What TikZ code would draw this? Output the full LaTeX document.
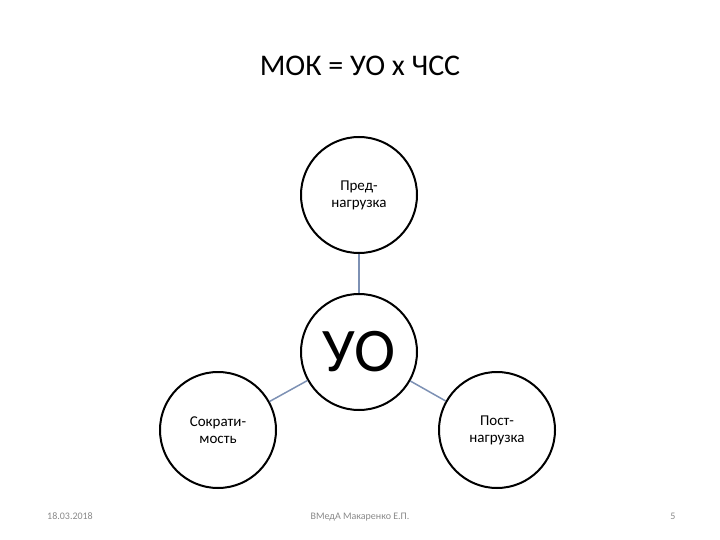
\documentclass[tikz,border=0pt]{standalone}
\usepackage{fontspec}
\setmainfont{Carlito}
\begin{document}
\begin{tikzpicture}[x=1pt,y=-1pt,
  circ/.style={circle,draw=black,line width=2pt,fill=white,minimum size=116pt,inner sep=0pt,align=center,font=\fontsize{15}{17}\selectfont},
  conn/.style={draw={rgb,255:red,125;green,145;blue,180},line width=1.5pt},
  foot/.style={font=\fontsize{10}{12}\selectfont,text={rgb,255:red,137;green,137;blue,137}}]
\useasboundingbox (0,0) rectangle (720,540);
\node (title) at (360,66) {\fontsize{30}{34}\selectfont МОК = УО x ЧСС};
\node[circ] (pre) at (359,195) {Пред-\\нагрузка};
\node[circ] (uo) at (359,352) {\fontsize{62}{64}\selectfont УО};
\node[circ] (left) at (218,430) {Сократи-\\мость};
\node[circ] (right) at (497,430) {Пост-\\нагрузка};
\draw[conn] (pre) -- (uo);
\draw[conn] (uo) -- (left);
\draw[conn] (uo) -- (right);
\node[foot,anchor=base] (date) at (70,519) {18.03.2018};
\node[foot,anchor=base] (auth) at (360,519) {ВМедА Макаренко Е.П.};
\node[foot,anchor=base] (num) at (673,519) {5};
\end{tikzpicture}
\end{document}
